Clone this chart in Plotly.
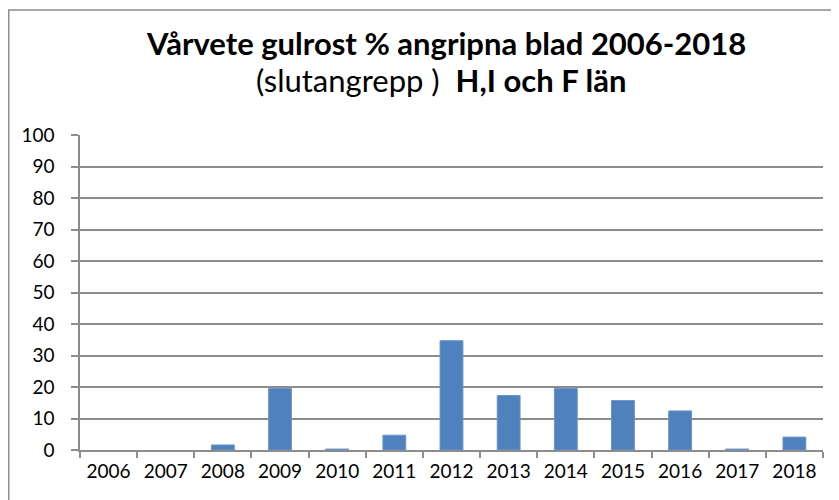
import plotly.graph_objects as go

years = ["2006", "2007", "2008", "2009", "2010", "2011", "2012", "2013", "2014", "2015", "2016", "2017", "2018"]
values = [0, 0, 1.6, 19.5, 0.3, 4.7, 34.7, 17.3, 19.5, 15.7, 12.4, 0.3, 4.1]
y_ticks = [0, 10, 20, 30, 40, 50, 60, 70, 80, 90, 100]

title_line1 = "Vårvete gulrost % angripna blad 2006-2018"
title_line2 = "(slutangrepp )  <b>H,I och F län</b>"

# page has an 8px body margin; work in page coordinates
OFF = 8
W, H = 839, 500
pl, pr, pt, pb = 80, 822.7, 135, 450  # plot area in page coords
ml = pl - OFF
mt = pt - OFF
mr = W - (pr - OFF)
mb = H - (pb - OFF)


def px(xp):
    return (xp - pl) / (pr - pl)


def py(yp):
    return (pb - yp) / (pb - pt)


edge_widths = [1 if v > 0 else 0 for v in values]

fig = go.Figure(go.Bar(
    x=years, y=values,
    marker=dict(color="#4F81BD", line=dict(color="#6B96CC", width=edge_widths)),
    width=0.4,
))

fig.update_layout(
    width=W, height=H,
    margin=dict(l=ml, r=mr, t=mt, b=mb, autoexpand=False),
    paper_bgcolor="white", plot_bgcolor="white",
    font=dict(family="Lato, Carlito, sans-serif", color="#000000", size=19),
    showlegend=False,
    xaxis=dict(
        type="category", showgrid=False, showline=True, linecolor="#8C8C8C", linewidth=1.5,
        ticks="outside", tickson="boundaries", ticklen=6, tickcolor="#8C8C8C", tickwidth=1.5,
        tickfont=dict(size=19), ticklabelstandoff=3,
    ),
    yaxis=dict(
        range=[0, 100], tickvals=y_ticks, showgrid=True, gridcolor="#8C8C8C", gridwidth=1.5,
        showline=True, linecolor="#8C8C8C", linewidth=1.5,
        ticks="outside", ticklen=7, tickcolor="#8C8C8C", tickwidth=1.5,
        tickfont=dict(size=19), zeroline=False, fixedrange=True, ticklabelstandoff=13,
    ),
    annotations=[
        dict(text="<b>" + title_line1 + "</b>", xref="paper", yref="paper",
             x=px(446), y=py(43), xanchor="center", yanchor="middle",
             showarrow=False, font=dict(size=31)),
        dict(text=title_line2, xref="paper", yref="paper",
             x=px(441), y=py(80), xanchor="center", yanchor="middle",
             showarrow=False, font=dict(size=31)),
    ],
    shapes=[
        dict(type="rect", xref="paper", yref="paper",
             x0=px(OFF + 0.75), x1=px(W + 30),
             y0=py(H + 30), y1=py(10),
             line=dict(color="#8C8C8C", width=1.5), layer="below"),
    ],
)

fig.write_html("out.html")
